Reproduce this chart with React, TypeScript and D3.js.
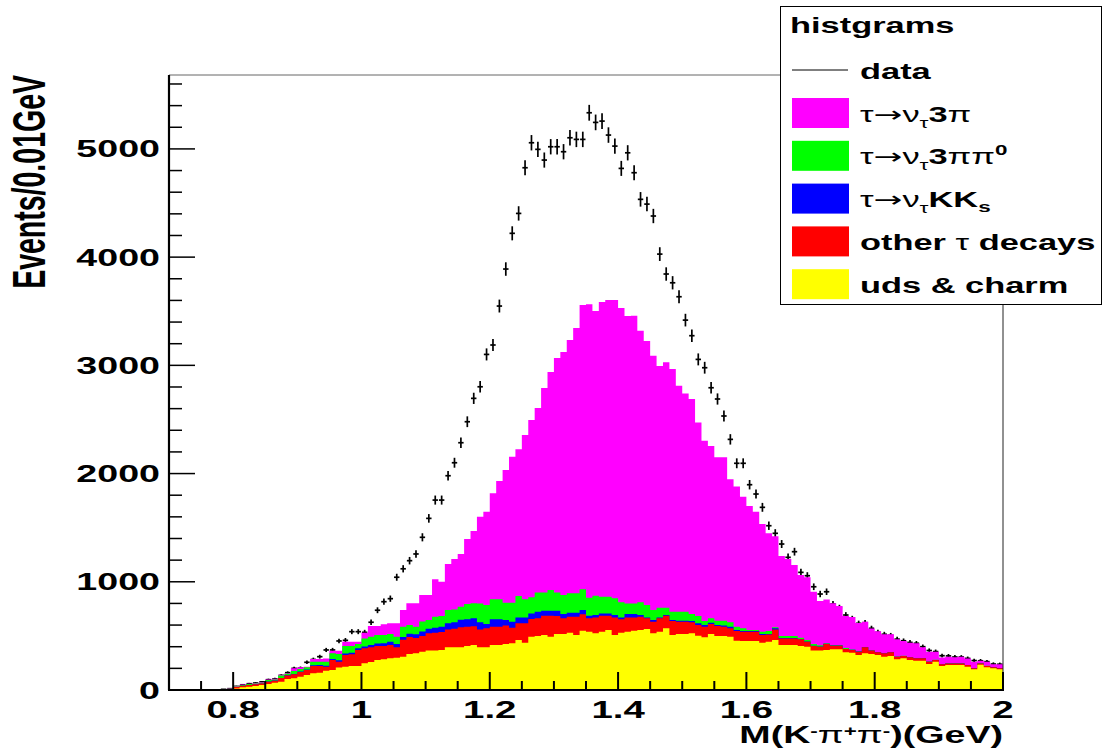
import React from "react";
import * as d3 from "d3";

// 130 bins of 0.01 GeV starting at 0.70 GeV
const binStart = 0.7;
const binWidth = 0.01;

const udsCharm = [
  0, 0, 0, 0, 0, 0, 0, 0, 3, 6, 15, 25, 30, 38, 46, 55, 68, 77, 101, 108,
  123, 139, 154, 160, 179, 185, 207, 216, 222, 222, 247, 259, 277, 284, 293, 299, 308, 333, 339, 354,
  364, 364, 370, 394, 394, 394, 407, 416, 394, 394, 416, 416, 425, 431, 462, 437, 493, 499, 508, 493,
  517, 517, 530, 508, 548, 539, 524, 539, 554, 508, 530, 539, 548, 554, 564, 524, 539, 570, 508, 517,
  517, 524, 502, 487, 517, 499, 499, 493, 456, 453, 453, 453, 437, 446, 462, 416, 416, 416, 407, 400,
  364, 364, 370, 376, 376, 348, 345, 323, 339, 333, 323, 308, 314, 284, 293, 277, 271, 271, 240, 262,
  222, 231, 231, 231, 216, 191, 234, 210, 200, 191,
];
const otherTau = [
  0, 0, 0, 0, 0, 0, 0, 0, 2, 4, 13, 15, 16, 14, 13, 22, 18, 33, 34, 37,
  43, 46, 68, 62, 37, 92, 55, 107, 108, 148, 138, 135, 130, 123, 123, 95, 157, 157, 141, 146,
  161, 166, 165, 166, 171, 186, 178, 174, 166, 176, 169, 169, 170, 145, 154, 179, 163, 163, 179, 194,
  167, 145, 148, 170, 151, 123, 147, 148, 133, 163, 123, 132, 123, 124, 98, 107, 123, 117, 130, 114,
  114, 101, 99, 98, 93, 92, 86, 77, 89, 86, 86, 86, 71, 68, 98, 61, 61, 61, 61, 46,
  43, 36, 55, 34, 34, 31, 25, 31, 55, 31, 25, 31, 34, 24, 21, 25, 22, 22, 22, 15,
  15, 15, 15, 15, 15, 9, 12, 12, 10, 9,
];
const tauKKs = [
  0, 0, 0, 0, 0, 0, 0, 0, 0, 0, 0, 0, 0, 0, 1, 1, 1, 1, 2, 3,
  4, 5, 6, 8, 9, 10, 13, 15, 15, 15, 17, 21, 23, 25, 29, 31, 25, 30, 35, 40,
  40, 45, 50, 56, 60, 70, 68, 72, 65, 40, 68, 68, 52, 55, 55, 55, 52, 62, 46, 46,
  49, 40, 36, 36, 40, 25, 22, 21, 21, 22, 18, 31, 31, 15, 9, 16, 9, 6, 9, 10,
  10, 13, 15, 16, 12, 10, 10, 15, 9, 6, 6, 6, 9, 3, 10, 3, 3, 3, 2, 2,
  2, 2, 2, 1, 1, 1, 1, 1, 0, 0, 0, 0, 0, 0, 0, 0, 0, 0, 0, 0,
  0, 0, 0, 0, 0, 0, 0, 0, 0, 0,
];
const tau3pipi0 = [
  0, 0, 0, 0, 0, 0, 0, 0, 1, 2, 5, 6, 9, 8, 8, 14, 11, 24, 13, 27,
  24, 20, 34, 32, 37, 52, 58, 68, 61, 40, 75, 78, 78, 76, 72, 68, 95, 81, 70, 92,
  82, 103, 99, 123, 120, 120, 142, 139, 175, 175, 185, 185, 160, 176, 198, 167, 148, 178, 169, 191,
  169, 176, 179, 179, 191, 166, 178, 154, 154, 154, 139, 98, 98, 117, 114, 92, 90, 68, 77, 83,
  83, 64, 68, 37, 40, 40, 46, 40, 31, 25, 9, 9, 22, 28, 10, 19, 19, 19, 13, 14,
  16, 11, 4, 5, 5, 8, 4, 3, 4, 3, 2, 2, 2, 2, 2, 2, 2, 2, 2, 2,
  2, 1, 1, 1, 1, 1, 1, 1, 1, 1,
];
const tau3pi = [
  0, 0, 0, 0, 0, 0, 0, 0, 1, 2, 3, 4, 3, 4, 4, 6, 5, 5, 5, 25,
  16, 5, 24, 24, 28, 24, 30, 40, 40, 21, 53, 98, 83, 99, 99, 123, 154, 200, 216, 246,
  231, 345, 317, 426, 465, 487, 600, 668, 801, 863, 979, 1093, 1226, 1349, 1355, 1518, 1639, 1703, 1888, 2014,
  2165, 2245, 2341, 2452, 2627, 2711, 2631, 2723, 2741, 2756, 2720, 2656, 2659, 2510, 2440, 2350, 2233, 2267, 2242, 2088,
  2017, 1987, 1789, 1666, 1592, 1509, 1509, 1322, 1295, 1216, 1146, 1094, 995, 903, 840, 739, 711, 656, 580, 579,
  484, 409, 406, 385, 360, 296, 300, 261, 233, 201, 192, 175, 166, 158, 136, 133, 136, 99, 90, 75,
  61, 61, 55, 61, 58, 61, 24, 39, 26, 36,
];
const dataCounts = [
  0, 0, 0, 0, 0, 0, 0, 0, 6, 12, 33, 48, 58, 64, 75, 95, 102, 135, 160, 200,
  203, 256, 282, 308, 370, 370, 453, 459, 539, 539, 533, 626, 737, 816, 844, 1042, 1120, 1195, 1257, 1411,
  1586, 1755, 1755, 1980, 2100, 2285, 2479, 2695, 2802, 3101, 3188, 3548, 3890, 4220, 4404, 4826, 5057, 4996, 4897, 5020,
  5020, 4974, 5103, 5088, 5088, 5334, 5245, 5257, 5128, 5026, 4820, 4964, 4780, 4534, 4490, 4380, 4028, 3844, 3763, 3634,
  3418, 3274, 3055, 2978, 2793, 2689, 2532, 2316, 2095, 2095, 1897, 1811, 1688, 1518, 1448, 1349, 1226, 1278, 1087, 1056,
  954, 887, 908, 795, 760, 693, 660, 616, 622, 570, 533, 515, 505, 470, 455, 440, 432, 400, 365, 355,
  317, 315, 305, 305, 292, 272, 270, 262, 240, 238,
];

const xTickValues = [0.8, 1, 1.2, 1.4, 1.6, 1.8, 2];
const xTickLabels = ["0.8", "1", "1.2", "1.4", "1.6", "1.8", "2"];
const yTickValues = [0, 1000, 2000, 3000, 4000, 5000];
const yTickLabels = ["0", "1000", "2000", "3000", "4000", "5000"];

const frame = { left: 169, right: 1003, top: 75, bottom: 690 };
const SX = 1.6; // glyphs in the picture are stretched sideways
const FONT = "'Liberation Sans', Arial, Helvetica, sans-serif";

const keys = ["uds", "other", "kks", "pi3pi0", "pi3"];
const colors: Record<string, string> = {
  uds: "#ffff00",
  other: "#ff0000",
  kks: "#0000ff",
  pi3pi0: "#00ff00",
  pi3: "#ff00ff",
};

function Label({ x, y, anchor = "start", size = 23.5, rotate = false, children }: any) {
  return (
    <g transform={`translate(${x},${y}) scale(${SX},1)${rotate ? " rotate(-90)" : ""}`}>
      <text textAnchor={anchor} fontFamily={FONT} fontWeight="bold" fontSize={size} fill="#000">
        {children}
      </text>
    </g>
  );
}

const greek = { fontWeight: "normal" as const };

export default function App() {
  const x = d3.scaleLinear().domain([0.7, 2.0]).range([frame.left, frame.right]);
  const y = d3.scaleLinear().domain([0, 5683]).range([frame.bottom, frame.top]);

  const n = udsCharm.length;
  const rows = udsCharm.map((v, i) => ({
    i,
    uds: v,
    other: otherTau[i],
    kks: tauKKs[i],
    pi3pi0: tau3pipi0[i],
    pi3: tau3pi[i],
  }));
  const series = d3.stack<any>().keys(keys)(rows);

  const area = d3
    .area<{ edge: number; top: number }>()
    .x((d) => x(d.edge))
    .y0(y(0))
    .y1((d) => y(d.top))
    .curve(d3.curveStepAfter);

  const layerPaths = series.map((s) => {
    const pts = s.map((d) => ({ edge: binStart + d.data.i * binWidth, top: d[1] }));
    pts.push({ edge: binStart + n * binWidth, top: s[n - 1][1] });
    return { key: s.key, d: area(pts) as string };
  });

  const xMinor = d3.range(0.75, 2.001, 0.05).filter((v) => !xTickValues.some((t) => Math.abs(t - v) < 1e-6));
  const yMinor = d3.range(200, 5683, 200).filter((v) => v % 1000 !== 0);

  const arrow = (
    <>
      <tspan style={greek}>τ</tspan>
      <tspan style={greek} fontFamily="'DejaVu Sans'">→</tspan>
      <tspan style={greek}>ν</tspan>
      <tspan style={greek} fontSize={14} dy={6}>τ</tspan>
    </>
  );
  const legendRows = [
    { key: "pi3", label: (<>{arrow}<tspan dy={-6}>3</tspan><tspan style={greek}>π</tspan></>) },
    { key: "pi3pi0", label: (<>{arrow}<tspan dy={-6}>3</tspan><tspan style={greek}>ππ</tspan><tspan fontSize={14} dy={-9}>0</tspan></>) },
    { key: "kks", label: (<>{arrow}<tspan dy={-6}>KK</tspan><tspan fontSize={14} dy={5}>s</tspan></>) },
    { key: "other", label: (<>other <tspan style={greek}>τ</tspan> decays</>) },
    { key: "uds", label: <>uds &amp; charm</> },
  ];

  return (
    <svg width={1103} height={755} style={{ position: "absolute", left: 0, top: 0, background: "#fff" }}>
      <rect x={0} y={0} width={1103} height={755} fill="#fff" />

      {/* data points first, the stack is painted over them */}
      <g stroke="#000" strokeWidth={1.7}>
        {dataCounts.map((v, i) => {
          if (v <= 0) return null;
          const lo = binStart + i * binWidth;
          const cx = x(lo + binWidth / 2);
          const err = Math.sqrt(v);
          return (
            <g key={i}>
              <line x1={cx} x2={cx} y1={y(v - err)} y2={y(v + err)} />
              <line x1={x(lo) + 0.5} x2={x(lo + binWidth) - 0.5} y1={y(v)} y2={y(v)} />
            </g>
          );
        })}
      </g>

      {/* stacked histograms, top layer first, each filled from zero */}
      {layerPaths
        .slice()
        .reverse()
        .map((p) => (
          <path key={p.key} d={p.d} fill={colors[p.key]} stroke="none" />
        ))}

      {/* frame */}
      <line x1={frame.left} x2={frame.right} y1={frame.top} y2={frame.top} stroke="#666" strokeWidth={1} />
      <line x1={frame.right} x2={frame.right} y1={frame.top} y2={frame.bottom} stroke="#222" strokeWidth={1} />
      <line x1={frame.left - 1} x2={frame.right + 1} y1={frame.bottom} y2={frame.bottom} stroke="#000" strokeWidth={2.2} />
      <line x1={frame.left} x2={frame.left} y1={frame.top} y2={frame.bottom} stroke="#000" strokeWidth={2.2} />

      {/* x ticks, inside */}
      <g stroke="#000" strokeWidth={2}>
        {xTickValues.map((v) => (
          <line key={v} x1={x(v)} x2={x(v)} y1={frame.bottom} y2={frame.bottom - 18} />
        ))}
        {xMinor.map((v) => (
          <line key={v} x1={x(v)} x2={x(v)} y1={frame.bottom} y2={frame.bottom - 9} />
        ))}
      </g>
      {/* y ticks, inside */}
      <g stroke="#000" strokeWidth={1.5}>
        {yTickValues.map((v) => (
          <line key={v} x1={frame.left} x2={frame.left + 26} y1={y(v)} y2={y(v)} />
        ))}
        {yMinor.map((v) => (
          <line key={v} x1={frame.left} x2={frame.left + 13} y1={y(v)} y2={y(v)} />
        ))}
      </g>

      {xTickValues.map((v, i) => (
        <Label key={v} x={x(v)} y={718} anchor="middle" size={24}>
          {xTickLabels[i]}
        </Label>
      ))}
      {yTickValues.map((v, i) => (
        <Label key={v} x={160} y={y(v) + 8.5} anchor="end">
          {yTickLabels[i]}
        </Label>
      ))}

      <Label x={frame.right} y={743} anchor="end">
        M(K<tspan fontSize={14} dy={-7}>-</tspan>
        <tspan style={greek} dy={7}>π</tspan>
        <tspan fontSize={14} dy={-7}>+</tspan>
        <tspan style={greek} dy={7}>π</tspan>
        <tspan fontSize={14} dy={-7}>-</tspan>
        <tspan dy={7}>)(GeV)</tspan>
      </Label>
      <Label x={45} y={frame.top} anchor="end" size={28.5} rotate>
        Events/0.01GeV
      </Label>

      {/* legend */}
      <rect x={780.5} y={6.5} width={321} height={298} fill="#fff" stroke="#000" strokeWidth={1} />
      <Label x={790} y={33} size={21.5}>histgrams</Label>
      <line x1={792} x2={848} y1={70} y2={70} stroke="#000" strokeWidth={1} />
      <Label x={860} y={79} size={21.5}>data</Label>
      {legendRows.map((r, k) => {
        const cy = 113 + k * 42.8;
        return (
          <g key={r.key}>
            <rect x={792} y={cy - 15} width={57} height={30} fill={colors[r.key]} />
            <Label x={860} y={cy + 8.5} size={21.5}>
              {r.label}
            </Label>
          </g>
        );
      })}
    </svg>
  );
}
